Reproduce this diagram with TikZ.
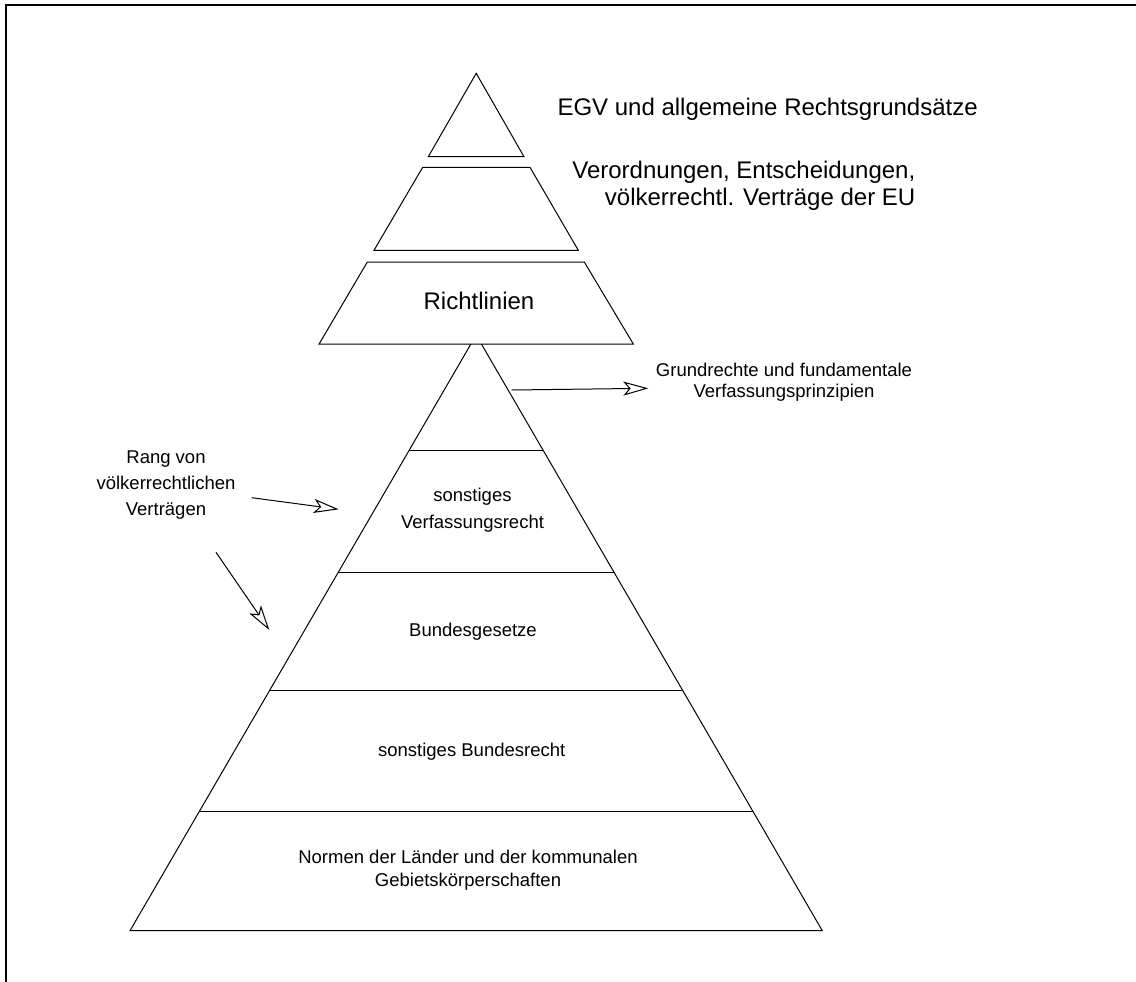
\documentclass[tikz,border=0pt]{standalone}
\usepackage{fontspec}
\setmainfont{Liberation Sans}
\usetikzlibrary{arrows.meta}
\begin{document}
\begin{tikzpicture}[x=1pt,y=-1pt,
  layer/.style={draw=black, line width=1pt, line join=miter},
  bigtext/.style={font=\fontsize{24}{26.7}\selectfont, inner sep=0pt},
  smalltext/.style={font=\fontsize{18.5}{23.4}\selectfont, inner sep=0pt},
  arr/.style={line width=1pt, -{Stealth[open, length=25pt, width=14pt, inset=6pt]}}]
\useasboundingbox (0,0) rectangle (1136,982);
% frame
\draw[line width=2pt] (5.5,982) -- (5.5,5.5) -- (1136,5.5);
% EU pyramid
\draw[layer] (476.2,73.3) -- (524,156.7) -- (428.3,156.7) -- cycle;
\draw[layer] (422.7,167.3) -- (530,167.3) -- (578.3,250.3) -- (374,250.3) -- cycle;
% national pyramid
\draw[layer] (476.15,335) -- (822.3,930.7) -- (130,930.7) -- cycle;
\draw[layer] (409.3,450) -- (543.0,450);
\draw[layer] (338.4,572) -- (613.9,572);
\draw[layer] (269.9,690) -- (682.4,690);
\draw[layer] (199.5,811) -- (752.8,811);
\filldraw[layer, fill=white] (367.3,262) -- (584.3,262) -- (633.3,344) -- (319.1,344) -- cycle;
% texts
\node[bigtext, anchor=base west] (egv) at (557.3,116) {EGV und allgemeine Rechtsgrundsätze};
\node[bigtext, align=right, anchor=base east] (vo) at (915.5,205) {Verordnungen, Entscheidungen,\\völkerrechtl. Verträge der EU};
\node[bigtext, anchor=base] (rl) at (479,309.3) {Richtlinien};
\node[smalltext, font=\fontsize{18.5}{21}\selectfont, align=center, anchor=base] (grund) at (784,397) {Grundrechte und fundamentale\\Verfassungsprinzipien};
\node[smalltext, font=\fontsize{18.5}{25.8}\selectfont, align=center, anchor=base] (rang) at (166,515) {Rang von\\völkerrechtlichen\\Verträgen};
\node[smalltext, font=\fontsize{18.5}{26.6}\selectfont, align=center, anchor=base] (svr) at (472.5,528.3) {sonstiges\\Verfassungsrecht};
\node[smalltext, anchor=base] (bg) at (473,636) {Bundesgesetze};
\node[smalltext, anchor=base] (sbr) at (471.7,756.7) {sonstiges Bundesrecht};
\node[smalltext, align=center, anchor=base] (norm) at (468,886.7) {Normen der Länder und der kommunalen\\Gebietskörperschaften};
% arrows
\coordinate (a1s) at (251.7,497.7);
\coordinate (a1e) at (338.7,509.3);
\coordinate (a2s) at (216,552.3);
\coordinate (a2e) at (269.3,630);
\coordinate (a3s) at (511.7,390);
\coordinate (a3e) at (648.3,388.3);
\draw[arr] (a1s) -- (a1e);
\draw[arr] (a2s) -- (a2e);
\draw[arr] (a3s) -- (a3e);
\end{tikzpicture}
\end{document}
